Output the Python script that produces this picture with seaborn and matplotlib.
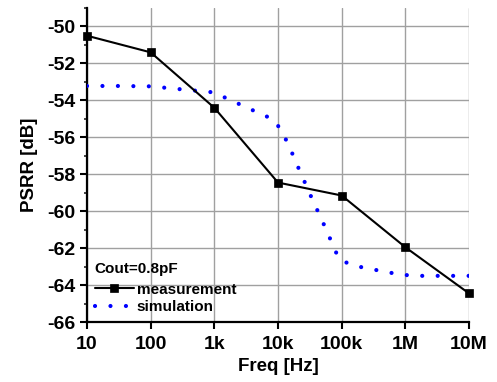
import matplotlib
matplotlib.use("Agg")
import matplotlib.pyplot as plt
import seaborn as sns
import numpy as np
import pandas as pd
from matplotlib.ticker import LogLocator, NullFormatter, MultipleLocator

# Data
meas_freq = [10, 100, 1e3, 1e4, 1e5, 1e6, 1e7]
meas_psrr = [-50.5, -51.4, -54.4, -58.45, -59.15, -61.95, -64.45]

sim_freq = [10, 30, 100, 300, 1e3, 1.6e3, 2.85e3, 4.9e3, 8.7e3, 1.2e4, 1.55e4, 2.0e4,
            2.57e4, 3.3e4, 4.27e4, 5.5e4, 7.1e4, 9.1e4, 1.48e5, 2.57e5, 4.57e5,
            7.94e5, 1.4e6, 3e6, 1e7]
sim_psrr = [-53.22, -53.22, -53.24, -53.4, -53.57, -53.91, -54.3, -54.67, -55.05, -55.8,
            -56.6, -57.5, -58.35, -59.2, -60.04, -60.87, -61.75, -62.6, -62.93, -63.1,
            -63.26, -63.42, -63.5, -63.5, -63.5]

xtick_vals = [10, 100, 1e3, 1e4, 1e5, 1e6, 1e7]
xtick_labels = ["10", "100", "1k", "10k", "100k", "1M", "10M"]
ytick_vals = [-50, -52, -54, -56, -58, -60, -62, -64, -66]

sns.set_style("white")
plt.rcParams['font.family'] = ['Liberation Sans', 'DejaVu Sans']
plt.rcParams['font.weight'] = 'bold'
plt.rcParams['text.color'] = 'black'
plt.rcParams['axes.labelcolor'] = 'black'

fig = plt.figure(figsize=(4.97, 3.82), dpi=100)
ax = fig.add_axes([0.175, 0.157, 0.7687, 0.822])

meas_df = pd.DataFrame({"freq": meas_freq, "psrr": meas_psrr})
sim_df = pd.DataFrame({"freq": sim_freq, "psrr": sim_psrr})

sns.lineplot(data=meas_df, x="freq", y="psrr", ax=ax, color="black", lw=1.5,
             marker="s", ms=6, markeredgecolor="black", markeredgewidth=0.5,
             label="measurement", clip_on=False, zorder=5)
sns.lineplot(data=sim_df, x="freq", y="psrr", ax=ax, color="#0000ff", lw=3.0,
             linestyle=(0, (0.01, 3.7)), dash_capstyle="round", label="simulation",
             zorder=4)

ax.set_xscale("log")
ax.set_xlim(10, 1e7)
ax.set_ylim(-66, -49)

ax.set_xticks(xtick_vals)
ax.set_xticklabels(xtick_labels)
ax.xaxis.set_minor_locator(LogLocator(base=10, subs=np.arange(2, 10)))
ax.xaxis.set_minor_formatter(NullFormatter())
ax.set_yticks(ytick_vals)
ax.set_yticklabels([str(v) for v in ytick_vals])
ax.yaxis.set_minor_locator(MultipleLocator(1))

ax.grid(True, which="major", color="#a0a0a0", lw=1.0)
for s in ["top", "right"]:
    ax.spines[s].set_visible(False)
for s in ["left", "bottom"]:
    ax.spines[s].set_color("black")
    ax.spines[s].set_linewidth(1.6)

ax.tick_params(axis="x", which="major", pad=5)
ax.tick_params(axis="y", which="major", pad=3)
ax.tick_params(axis="both", which="major", direction="out", length=5, width=1.5,
               labelsize=14, colors="black", labelcolor="black",
               left=True, bottom=True)
ax.tick_params(axis="both", which="minor", direction="out", length=2.5, width=1.2,
               left=True, bottom=True)
for lab in ax.get_xticklabels() + ax.get_yticklabels():
    lab.set_fontweight("bold")

ax.set_xlabel("Freq [Hz]", fontsize=13.5, fontweight="bold", labelpad=4, color="black")
ax.set_ylabel("PSRR [dB]", fontsize=13.5, fontweight="bold", labelpad=7, color="black")

leg = ax.legend(title="Cout=0.8pF", loc="lower left", frameon=False,
                prop={"size": 11, "weight": "bold"}, handlelength=2.6,
                handletextpad=0.15, borderaxespad=0.2, labelspacing=0.25,
                borderpad=0.3, bbox_to_anchor=(0.0, 0.0))
leg.get_title().set_fontsize(11)
leg.get_title().set_fontweight("bold")
leg.get_title().set_color("black")
for t in leg.get_texts():
    t.set_color("black")
leg._legend_box.align = "left"
leg._legend_box.sep = 5

fig.savefig("out.png", dpi=100)
